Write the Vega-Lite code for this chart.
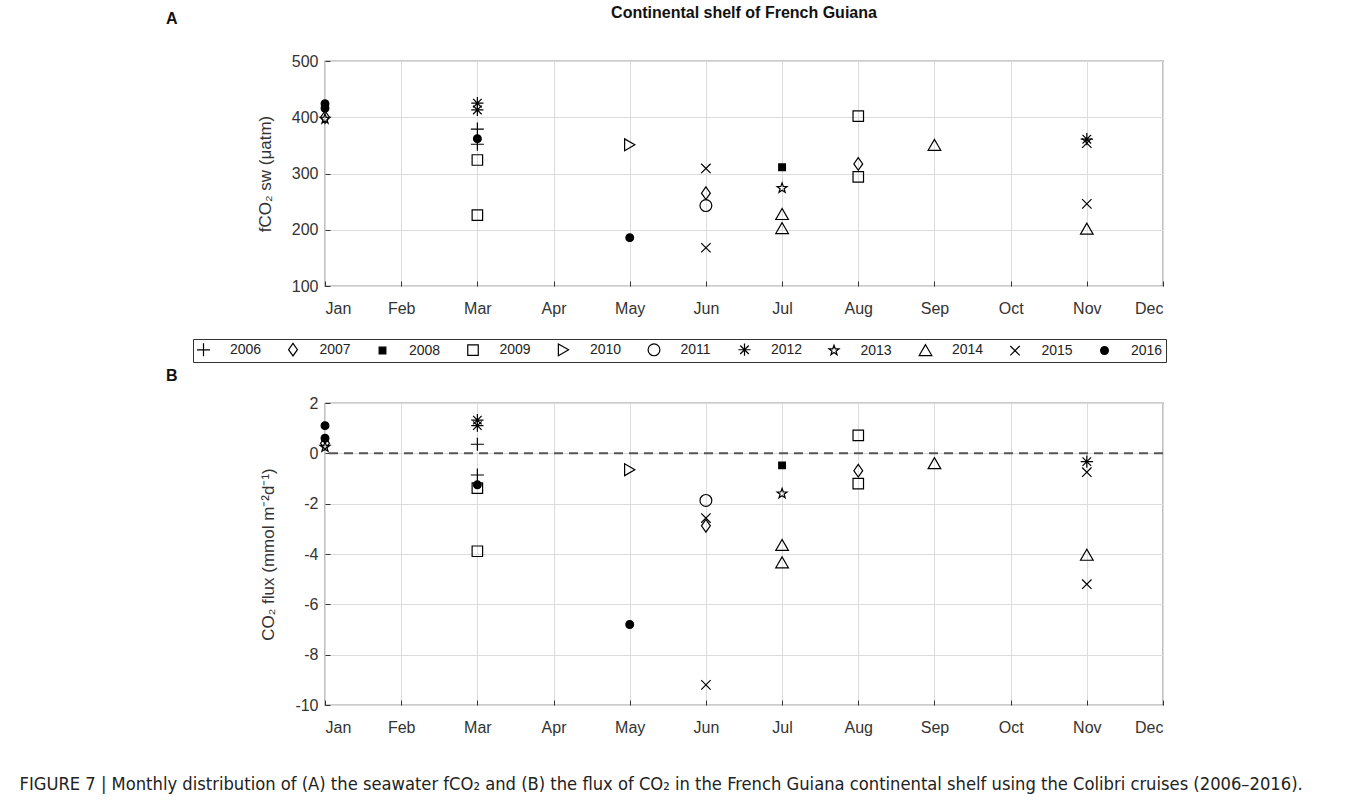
{
  "$schema": "https://vega.github.io/schema/vega-lite/v6.json",
  "background": "white",
  "padding": {"left": 18, "top": 4, "right": 10, "bottom": 4},
  "title": {"text": "A", "anchor": "start", "frame": "group", "dx": -159, "dy": -7, "offset": -30, "fontSize": 16, "fontWeight": "bold", "font": "Liberation Sans", "color": "#111"},
  "datasets": {
    "fco2": [
      {"month": 1, "year": "2016", "value": 424},
      {"month": 1, "year": "2016", "value": 416},
      {"month": 1, "year": "2007", "value": 400},
      {"month": 1, "year": "2013", "value": 397},
      {"month": 3, "year": "2012", "value": 425},
      {"month": 3, "year": "2012", "value": 413},
      {"month": 3, "year": "2006", "value": 379},
      {"month": 3, "year": "2006", "value": 352},
      {"month": 3, "year": "2016", "value": 362},
      {"month": 3, "year": "2009", "value": 324},
      {"month": 3, "year": "2009", "value": 226},
      {"month": 5, "year": "2010", "value": 351},
      {"month": 5, "year": "2016", "value": 186},
      {"month": 6, "year": "2015", "value": 309},
      {"month": 6, "year": "2015", "value": 168},
      {"month": 6, "year": "2007", "value": 265},
      {"month": 6, "year": "2011", "value": 243},
      {"month": 7, "year": "2008", "value": 311},
      {"month": 7, "year": "2013", "value": 274},
      {"month": 7, "year": "2014", "value": 228},
      {"month": 7, "year": "2014", "value": 203},
      {"month": 8, "year": "2009", "value": 402},
      {"month": 8, "year": "2009", "value": 294},
      {"month": 8, "year": "2007", "value": 317},
      {"month": 9, "year": "2014", "value": 351},
      {"month": 11, "year": "2012", "value": 361},
      {"month": 11, "year": "2015", "value": 354},
      {"month": 11, "year": "2015", "value": 246},
      {"month": 11, "year": "2014", "value": 202}
    ],
    "flux": [
      {"month": 1, "year": "2016", "value": 1.1},
      {"month": 1, "year": "2016", "value": 0.6},
      {"month": 1, "year": "2007", "value": 0.4},
      {"month": 1, "year": "2013", "value": 0.25},
      {"month": 3, "year": "2012", "value": 1.32},
      {"month": 3, "year": "2012", "value": 1.1},
      {"month": 3, "year": "2006", "value": 0.36},
      {"month": 3, "year": "2006", "value": -0.86},
      {"month": 3, "year": "2016", "value": -1.25},
      {"month": 3, "year": "2009", "value": -1.38},
      {"month": 3, "year": "2009", "value": -3.89},
      {"month": 5, "year": "2010", "value": -0.65},
      {"month": 5, "year": "2016", "value": -6.8},
      {"month": 6, "year": "2011", "value": -1.87},
      {"month": 6, "year": "2015", "value": -2.57},
      {"month": 6, "year": "2015", "value": -9.2},
      {"month": 6, "year": "2007", "value": -2.88},
      {"month": 7, "year": "2008", "value": -0.48},
      {"month": 7, "year": "2013", "value": -1.6},
      {"month": 7, "year": "2014", "value": -3.64},
      {"month": 7, "year": "2014", "value": -4.33},
      {"month": 8, "year": "2009", "value": 0.71},
      {"month": 8, "year": "2009", "value": -1.2},
      {"month": 8, "year": "2007", "value": -0.69},
      {"month": 9, "year": "2014", "value": -0.39},
      {"month": 11, "year": "2012", "value": -0.33},
      {"month": 11, "year": "2015", "value": -0.75},
      {"month": 11, "year": "2015", "value": -5.2},
      {"month": 11, "year": "2014", "value": -4.03}
    ]
  },
  "spacing": 50,
  "vconcat": [
    {
      "width": 838,
      "height": 225,
      "title": {"text": "Continental shelf of French Guiana", "anchor": "middle", "frame": "group", "offset": 32, "fontSize": 16, "fontWeight": "bold", "font": "Liberation Sans", "color": "#111"},
      "data": {"name": "fco2"},
      "mark": {"type": "point", "filled": false, "strokeWidth": 1.2, "opacity": 1},
      "encoding": {
        "x": {"field": "month", "type": "quantitative", "scale": {"domain": [1, 12], "nice": false},
          "axis": {"title": null, "values": [1,2,3,4,5,6,7,8,9,10,11,12], "grid": true, "labelPadding": 19,
            "labelExpr": "['Jan','Feb','Mar','Apr','May','Jun','Jul','Aug','Sep','Oct','Nov','Dec'][datum.value-1]"}},
        "y": {"field": "value", "type": "quantitative", "scale": {"domain": [100, 500], "nice": false},
          "axis": {"title": "fCO₂ sw (μatm)", "values": [100,200,300,400,500], "grid": true, "labelPadding": 12, "titlePadding": 17, "labelExpr": "'' + datum.value"}},
        "shape": {"field": "year", "type": "nominal",
          "scale": {"domain": ["2006","2007","2008","2009","2010","2011","2012","2013","2014","2015","2016"],
            "range": ["M-1,0L1,0M0,-1L0,1", "M0,-1L0.7,0L0,1L-0.7,0Z", "square", "square", "triangle-right", "circle",
              "M-1,0L1,0M0,-1L0,1M-0.7,-0.7L0.7,0.7M-0.7,0.7L0.7,-0.7",
              "M0,-1L0.235,-0.324L0.951,-0.309L0.38,0.124L0.588,0.809L0,0.4L-0.588,0.809L-0.38,0.124L-0.951,-0.309L-0.235,-0.324Z",
              "triangle-up", "M-0.7,-0.7L0.7,0.7M-0.7,0.7L0.7,-0.7", "circle"]},
          "legend": {"title": null, "orient": "none", "legendX": -132, "legendY": 278, "direction": "horizontal", "columns": 11}},
        "stroke": {"field": "year", "type": "nominal",
          "scale": {"domain": ["2006","2007","2008","2009","2010","2011","2012","2013","2014","2015","2016"],
            "range": ["black","black","black","black","black","black","black","black","black","black","black"]},
          "legend": {"title": null, "orient": "none", "legendX": -132, "legendY": 278, "direction": "horizontal", "columns": 11}},
        "fill": {"field": "year", "type": "nominal",
          "scale": {"domain": ["2006","2007","2008","2009","2010","2011","2012","2013","2014","2015","2016"],
            "range": ["transparent","transparent","black","transparent","transparent","transparent","transparent","transparent","transparent","transparent","black"]},
          "legend": {"title": null, "orient": "none", "legendX": -132, "legendY": 278, "direction": "horizontal", "columns": 11}},
        "size": {"field": "year", "type": "nominal",
          "scale": {"type": "ordinal", "domain": ["2006","2007","2008","2009","2010","2011","2012","2013","2014","2015","2016"],
            "range": [170, 160, 45, 110, 140, 140, 150, 110, 160, 180, 60]},
          "legend": {"title": null, "orient": "none", "legendX": -132, "legendY": 278, "direction": "horizontal", "columns": 11}}
      }
    },
    {
      "width": 838,
      "height": 302,
      "title": {"text": "B", "anchor": "start", "frame": "group", "dx": -159, "offset": 11, "fontSize": 16, "fontWeight": "bold", "font": "Liberation Sans", "color": "#111"},
      "layer": [
        {
          "data": {"values": [{}]},
          "mark": {"type": "rule", "strokeDash": [9, 6], "color": "#555", "strokeWidth": 2},
          "encoding": {"y": {"datum": 0}}
        },
        {
          "data": {"name": "flux"},
          "mark": {"type": "point", "filled": false, "strokeWidth": 1.2, "opacity": 1},
          "encoding": {
            "x": {"field": "month", "type": "quantitative", "scale": {"domain": [1, 12], "nice": false},
              "axis": {"values": [1,2,3,4,5,6,7,8,9,10,11,12], "grid": true, "labelPadding": 19,
                "labelExpr": "['Jan','Feb','Mar','Apr','May','Jun','Jul','Aug','Sep','Oct','Nov','Dec'][datum.value-1]",
                "title": "FIGURE 7 | Monthly distribution of (A) the seawater fCO₂ and (B) the flux of CO₂ in the French Guiana continental shelf using the Colibri cruises (2006–2016).",
                "titleX": -306, "titleY": 79, "titleAlign": "left", "titleBaseline": "middle", "titleFont": "DejaVu Sans Condensed, Liberation Sans", "titleFontSize": 18.2, "titleColor": "#222"}},
            "y": {"field": "value", "type": "quantitative", "scale": {"domain": [-10, 2], "nice": false},
              "axis": {"title": "CO₂ flux (mmol m⁻²d⁻¹)", "values": [-10,-8,-6,-4,-2,0,2], "grid": true, "labelPadding": 12, "titlePadding": 17, "labelExpr": "'' + datum.value"}},
            "shape": {"field": "year", "type": "nominal",
              "scale": {"domain": ["2006","2007","2008","2009","2010","2011","2012","2013","2014","2015","2016"],
                "range": ["M-1,0L1,0M0,-1L0,1", "M0,-1L0.7,0L0,1L-0.7,0Z", "square", "square", "triangle-right", "circle",
                  "M-1,0L1,0M0,-1L0,1M-0.7,-0.7L0.7,0.7M-0.7,0.7L0.7,-0.7",
                  "M0,-1L0.235,-0.324L0.951,-0.309L0.38,0.124L0.588,0.809L0,0.4L-0.588,0.809L-0.38,0.124L-0.951,-0.309L-0.235,-0.324Z",
                  "triangle-up", "M-0.7,-0.7L0.7,0.7M-0.7,0.7L0.7,-0.7", "circle"]},
              "legend": {"title": null, "orient": "none", "legendX": -132, "legendY": 278, "direction": "horizontal", "columns": 11}},
            "stroke": {"field": "year", "type": "nominal",
              "scale": {"domain": ["2006","2007","2008","2009","2010","2011","2012","2013","2014","2015","2016"],
                "range": ["black","black","black","black","black","black","black","black","black","black","black"]},
              "legend": {"title": null, "orient": "none", "legendX": -132, "legendY": 278, "direction": "horizontal", "columns": 11}},
            "fill": {"field": "year", "type": "nominal",
              "scale": {"domain": ["2006","2007","2008","2009","2010","2011","2012","2013","2014","2015","2016"],
                "range": ["transparent","transparent","black","transparent","transparent","transparent","transparent","transparent","transparent","transparent","black"]},
              "legend": {"title": null, "orient": "none", "legendX": -132, "legendY": 278, "direction": "horizontal", "columns": 11}},
            "size": {"field": "year", "type": "nominal",
              "scale": {"type": "ordinal", "domain": ["2006","2007","2008","2009","2010","2011","2012","2013","2014","2015","2016"],
                "range": [170, 160, 45, 110, 140, 140, 150, 110, 160, 180, 60]},
              "legend": {"title": null, "orient": "none", "legendX": -132, "legendY": 278, "direction": "horizontal", "columns": 11}}
          }
        }
      ]
    }
  ],
  "config": {
    "font": "Liberation Sans",
    "view": {"stroke": "#333", "strokeWidth": 1.2},
    "axis": {"gridColor": "#dcdcdc", "gridWidth": 1, "domain": false, "tickColor": "#333", "tickSize": -5, "labelFontSize": 16, "labelColor": "#333", "titleFontSize": 17, "titleFontWeight": "normal", "titleColor": "#333", "labelFont": "Liberation Sans", "titleFont": "Liberation Sans"},
    "legend": {"strokeColor": "#333", "fillColor": "white", "padding": 3, "labelFontSize": 14, "labelColor": "#222", "labelFont": "Liberation Sans", "labelOffset": 19, "columnPadding": 23.5, "symbolStrokeWidth": 1.2}
  }
}
